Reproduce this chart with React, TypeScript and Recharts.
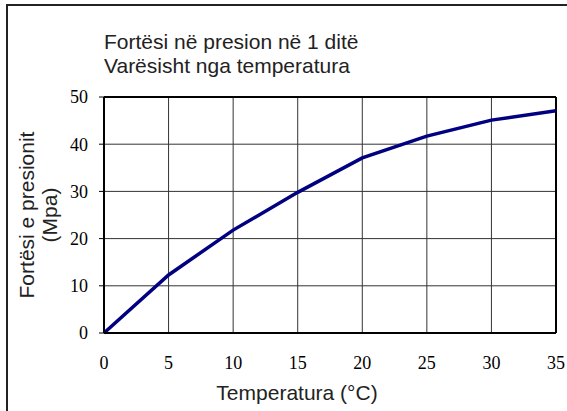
import React from "react";
import { LineChart, Line, XAxis, YAxis, CartesianGrid, ReferenceLine, Label } from "recharts";

const temperatures = [0, 5, 10, 15, 20, 25, 30, 35];
const strength = [0, 12.3, 21.8, 29.8, 37.1, 41.7, 45.1, 47.1];
const xTicks = [0, 5, 10, 15, 20, 25, 30, 35];
const yTicks = [0, 10, 20, 30, 40, 50];
const titleLines = ["Fortësi në presion në 1 ditë", "Varësisht nga temperatura"];
const xTitle = "Temperatura (°C)";
const yTitleLines = ["Fortësi e presionit", "(Mpa)"];

const data = temperatures.map((t, i) => ({ t, v: strength[i] }));

const SANS = "'Liberation Sans', Arial, sans-serif";
const SERIF = "'Liberation Serif', 'Times New Roman', serif";

const YTitle = (props: any) => {
  const vb = props.viewBox || {};
  const cy = vb.y + vb.height / 2;
  return (
    <g>
      <text x={26} y={cy} transform={`rotate(-90 26 ${cy})`} textAnchor="middle" dominantBaseline="central" fontFamily={SANS} fontSize={21} fill="#222">
        {yTitleLines[0]}
      </text>
      <text x={49} y={cy} transform={`rotate(-90 49 ${cy})`} textAnchor="middle" dominantBaseline="central" fontFamily={SANS} fontSize={21} fill="#222">
        {yTitleLines[1]}
      </text>
    </g>
  );
};

const XTitle = (props: any) => {
  const vb = props.viewBox || {};
  const cx = vb.x + vb.width / 2 - 33;
  return (
    <text x={cx} y={400} textAnchor="middle" fontFamily={SANS} fontSize={21} fill="#222">
      {xTitle}
    </text>
  );
};

export default function App() {
  return (
    <div style={{ position: "fixed", left: 0, top: 0, width: 567, height: 411, background: "#fff", overflow: "hidden" }}>
      <div style={{ position: "absolute", left: 104, top: 30, fontFamily: SANS, fontSize: 21, lineHeight: "24px", color: "#222", whiteSpace: "nowrap" }}>
        {titleLines.map((l) => (
          <div key={l}>{l}</div>
        ))}
      </div>
      <div style={{ position: "absolute", left: 0, top: 0 }}>
        <LineChart width={567} height={411} data={data} margin={{ top: 97, right: 11, bottom: 0, left: 0 }}>
          <CartesianGrid stroke="#333" strokeWidth={1} />
          <XAxis
            dataKey="t"
            type="number"
            domain={[0, 35]}
            ticks={xTicks}
            height={78}
            tickLine={false}
            tickSize={0}
            tickMargin={23}
            axisLine={{ stroke: "#000", strokeWidth: 2 }}
            tick={{ fill: "#000", fontFamily: SERIF, fontSize: 18 }}
            interval={0}
          >
            <Label content={XTitle} />
          </XAxis>
          <YAxis
            type="number"
            domain={[0, 50]}
            ticks={yTicks}
            width={104}
            tickSize={5}
            tickMargin={11}
            tickLine={{ stroke: "#000" }}
            axisLine={{ stroke: "#000", strokeWidth: 2 }}
            tick={{ fill: "#000", fontFamily: SERIF, fontSize: 18 }}
            interval={0}
          >
            <Label content={YTitle} />
          </YAxis>
          <ReferenceLine y={50} stroke="#000" strokeWidth={2} />
          <ReferenceLine x={35} stroke="#000" strokeWidth={2} />
          <Line type="linear" dataKey="v" stroke="#000080" strokeWidth={3.5} dot={false} isAnimationActive={false} />
        </LineChart>
      </div>
      <div style={{ position: "absolute", left: 6, top: 4, width: 600, height: 450, borderTop: "2px solid #222", borderLeft: "2px solid #222", pointerEvents: "none" }} />
    </div>
  );
}
